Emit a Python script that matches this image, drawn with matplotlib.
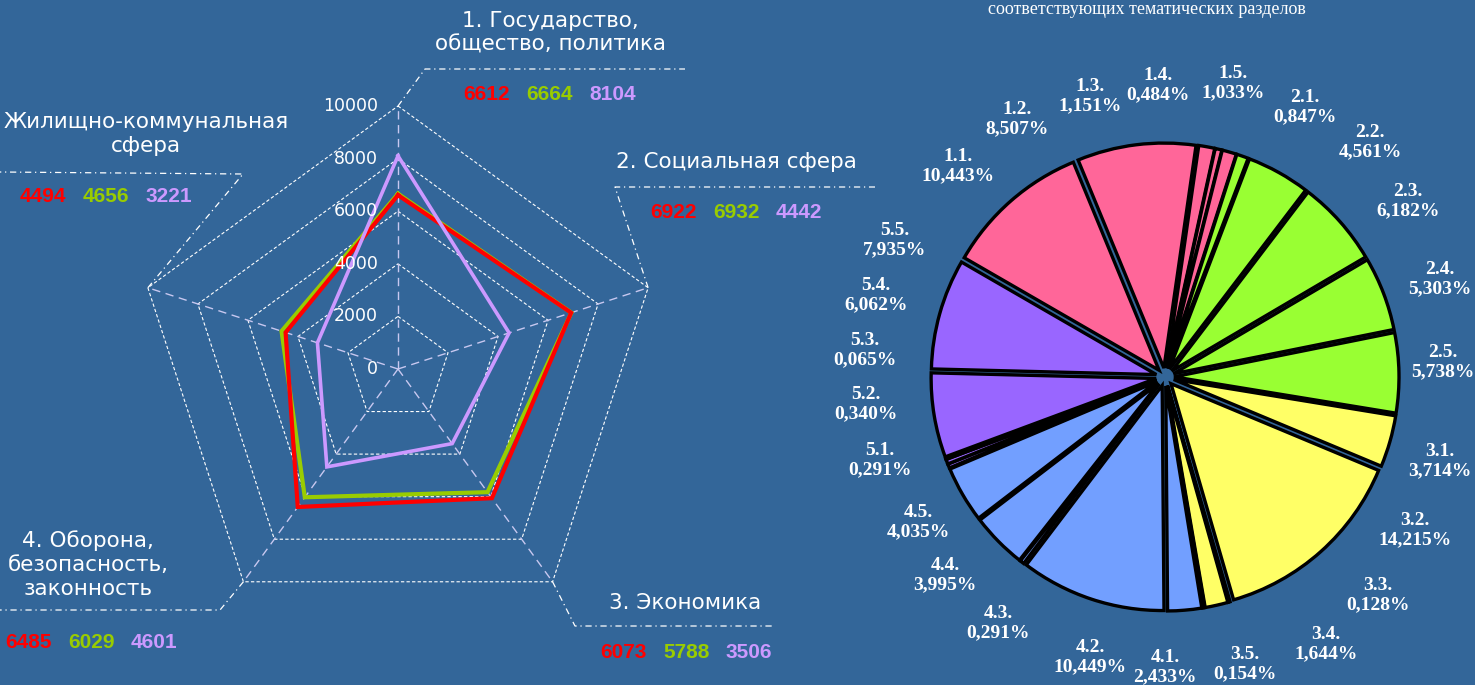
import numpy as np
import matplotlib.pyplot as plt

# radar data
categories = ['1. Государство,\nобщество, политика', '2. Социальная сфера', '3. Экономика',
              '4. Оборона,\nбезопасность,\nзаконность', 'Жилищно-коммунальная\nсфера']
red_vals = [6612, 6922, 6073, 6485, 4494]
green_vals = [6664, 6932, 5788, 6029, 4656]
violet_vals = [8104, 4442, 3506, 4601, 3221]
radar_ticks = [0, 2000, 4000, 6000, 8000, 10000]

# pie data
sections = ['1.1.', '1.2.', '1.3.', '1.4.', '1.5.',
            '2.1.', '2.2.', '2.3.', '2.4.', '2.5.',
            '3.1.', '3.2.', '3.3.', '3.4.', '3.5.',
            '4.1.', '4.2.', '4.3.', '4.4.', '4.5.',
            '5.1.', '5.2.', '5.3.', '5.4.', '5.5.']
shares = [10.443, 8.507, 1.151, 0.484, 1.033,
          0.847, 4.561, 6.182, 5.303, 5.738,
          3.714, 14.215, 0.128, 1.644, 0.154,
          2.433, 10.449, 0.291, 3.995, 4.035,
          0.291, 0.340, 0.065, 6.062, 7.935]
group_colors = ['#FF6699', '#99FF33', '#FFFF66', '#729FFF', '#9966FF']

bg = '#336699'
W, H = 1475, 685
fig = plt.figure(figsize=(W / 100, H / 100), dpi=100, facecolor=bg)

# ---------- radar (left) ----------
cx, cy = 398, 369          # centre in pixels
k = 263 / 10000            # pixels per unit
ax = fig.add_axes([0, 0, 1, 1])
ax.set_xlim(-cx / k, (W - cx) / k)
ax.set_ylim((cy - H) / k, cy / k)
ax.axis('off')


def P(px, py):
    return (px - cx) / k, (cy - py) / k


ang = np.deg2rad(np.arange(5) * 72)
sx, sy = np.sin(ang), np.cos(ang)

for r in radar_ticks[1:]:
    ax.plot(np.append(r * sx, r * sx[0]), np.append(r * sy, r * sy[0]),
            color='white', lw=0.8, ls=(0, (3, 2)), zorder=1)
for i in range(5):
    ax.plot([0, 10000 * sx[i]], [0, 10000 * sy[i]], color='#C8C8F0', lw=1,
            ls=(0, (6, 4)), zorder=1)

for vals, col, lw in [(green_vals, '#99CC00', 3.0), (red_vals, '#FF0000', 3.0),
                      (violet_vals, '#CC99FF', 2.6)]:
    v = np.array(vals)
    ax.plot(np.append(v * sx, v[0] * sx[0]), np.append(v * sy, v[0] * sy[0]),
            color=col, lw=lw, solid_joinstyle='miter', zorder=3)

for t in radar_ticks:
    ax.text(-760, t, str(t), color='white', fontsize=12.5, ha='right', va='center', zorder=4)

# callouts: elbow and end of each leader line, label centre, value row start
elbows = [(425, 69), (615, 187), (575, 626), (220, 610), (243, 174)]
ends = [(685, 69), (875, 187), (772, 626), (0, 610), (0, 172)]
label_pos = [(550, 33), (736, 162), (685, 603), (88, 565), (146, 134)]
value_pos = [(463, 95), (650, 213), (600, 652), (5, 642), (20, 197)]
leader = dict(color='white', lw=0.9, ls=(0, (5, 3, 1, 3)))
for i in range(5):
    vx, vy = 10000 * sx[i], 10000 * sy[i]
    ex, ey = P(*elbows[i])
    fx, fy = P(*ends[i])
    ax.plot([vx, ex, fx], [vy, ey, fy], **leader)
    lx, ly = P(*label_pos[i])
    ax.text(lx, ly, categories[i], color='white', fontsize=15.5, ha='center', va='center',
            linespacing=1.25)
    for j, (vals, col) in enumerate([(red_vals, '#FF0000'), (green_vals, '#99CC00'),
                                     (violet_vals, '#CC99FF')]):
        tx, ty = P(value_pos[i][0] + j * 63, value_pos[i][1])
        ax.text(tx, ty, str(vals[i]), color=col, fontsize=15, fontweight='bold',
                family='Liberation Sans', ha='left', va='center')

# ---------- pie (right) ----------
pcx, pcy, pr = 1165, 377, 225
half = 1.5
pw = 2 * half * pr
pax = fig.add_axes([(pcx - pw / 2) / W, (H - pcy - pw / 2) / H, pw / W, pw / H])
colors = [group_colors[int(s[0]) - 1] for s in sections]
pax.pie(shares, colors=colors, startangle=150, counterclock=False, explode=[0.04] * len(shares),
        wedgeprops=dict(edgecolor='black', linewidth=2.4))
pax.set_xlim(-half, half)
pax.set_ylim(-half, half)
pax.set_aspect('equal')
pax.axis('off')

pie_label_pos = [(958, 166), (1017, 119), (1090, 96), (1158, 85), (1233, 83),
                 (1305, 107), (1370, 142), (1408, 201), (1440, 279), (1443, 362),
                 (1440, 461), (1415, 530), (1378, 595), (1326, 644), (1245, 664),
                 (1165, 667), (1090, 657), (998, 623), (945, 575), (918, 522),
                 (880, 460), (866, 404), (865, 350), (876, 295), (895, 240)]
for s, v, (px, py) in zip(sections, shares, pie_label_pos):
    txt = s + '\n' + ('%.3f%%' % v).replace('.', ',')
    pax.text((px - pcx) / pr, (pcy - py) / pr, txt, color='white', fontsize=14,
             fontweight='bold', family='Liberation Serif', ha='center', va='center',
             linespacing=1.15, clip_on=False)

fig.text(1147 / W, 1 - 9 / H, 'соответствующих тематических разделов', color='white',
         fontsize=13, family='Liberation Serif', ha='center', va='center')

fig.savefig('out.png', dpi=100, facecolor=bg)
